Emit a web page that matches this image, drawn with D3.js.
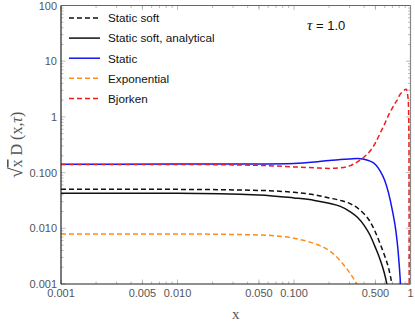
<!DOCTYPE html>
<html>
<head>
<meta charset="utf-8">
<script src="https://cdn.jsdelivr.net/npm/d3@7"></script>
<style>
  body { margin: 0; background: #fff; }
  svg { display: block; }
</style>
</head>
<body>
<script>
// values
let xs = [0.001, 0.01, 0.05, 0.1, 0.15, 0.2, 0.25, 0.3, 0.35, 0.4, 0.45, 0.5, 0.55, 0.6, 0.65, 0.7, 0.75, 0.78, 0.8, 0.85, 0.9, 0.92, 0.94, 0.96, 0.97, 0.975];

let staticSoft  = [0.0504, 0.0500, 0.0479, 0.0442, 0.0398, 0.0351, 0.0317, 0.0280, 0.0232, 0.0181, 0.0132, 0.0085, 0.0052, 0.0032, 0.0019, 0.0009, null, null, null, null, null, null, null, null, null, null];
let staticSoftA = [0.0427, 0.0424, 0.0398, 0.0351, 0.0317, 0.0282, 0.0247, 0.0202, 0.0158, 0.0113, 0.0075, 0.0045, 0.0027, 0.0015, 0.0007, null, null, null, null, null, null, null, null, null, null, null];
let staticV     = [0.1416, 0.1420, 0.143, 0.146, 0.155, 0.1656, 0.171, 0.176, 0.180, 0.174, 0.161, 0.140, 0.106, 0.073, 0.042, 0.0205, 0.0088, 0.0042, 0.0022, 0.0003, null, null, null, null, null, null];
let expo        = [0.0079, 0.0079, 0.0076, 0.0066, 0.0053, 0.0040, 0.0026, 0.0016, 0.00095, 0.0005, null, null, null, null, null, null, null, null, null, null, null, null, null, null, null, null];
let bjorken     = [0.140, 0.140, 0.135, 0.1266, 0.122, 0.119, 0.122, 0.132, 0.156, 0.191, 0.245, 0.341, 0.516, 0.749, 1.09, 1.45, 1.86, 2.1, 2.38, 2.81, 3.11, 3.14, 2.70, 1.64, 0.386, 0.0003];

let seriesNames = ["Static soft", "Static soft, analytical", "Static", "Exponential", "Bjorken"];
let seriesVals = [staticSoft, staticSoftA, staticV, expo, bjorken];
let seriesColors = ["#111", "#111", "#1414f0", "#ff8c1a", "#ee1c1c"];
let seriesDash = ["5,3", null, null, "5,3", "5,3"];

let yTicks = [100, 10, 1, 0.1, 0.01, 0.001];
let yTickLabels = ["100", "10", "1", "0.100", "0.010", "0.001"];
let xTicks = [0.001, 0.005, 0.01, 0.05, 0.1, 0.5, 1];
let xTickLabels = ["0.001", "0.005", "0.010", "0.050", "0.100", "0.500", "1"];

let width = 415, height = 327;
let margin = {left: 61, right: 4.5, top: 5.5, bottom: 43};

let svg = d3.select("body").append("svg")
  .attr("width", width)
  .attr("height", height);

let x = d3.scaleLog().domain([0.001, 1]).range([margin.left, width - margin.right]);
let y = d3.scaleLog().domain([0.001, 100]).range([height - margin.bottom, margin.top]);

svg.append("defs").append("clipPath").attr("id", "clip")
  .append("rect")
  .attr("x", margin.left).attr("y", margin.top)
  .attr("width", width - margin.left - margin.right)
  .attr("height", height - margin.top - margin.bottom);

// minor ticks
let minorX = [], minorY = [];
for (let d = 0.001; d < 1; d *= 10)
  for (let k = 2; k <= 9; k++) minorX.push(d * k);
for (let d = 0.001; d < 100; d *= 10)
  for (let k = 2; k <= 9; k++) minorY.push(d * k);

let tickG = svg.append("g").attr("stroke", "#aaa").attr("stroke-width", 0.8);
minorX.forEach(v => {
  tickG.append("line").attr("x1", x(v)).attr("x2", x(v)).attr("y1", y.range()[0]).attr("y2", y.range()[0] - 2.5);
  tickG.append("line").attr("x1", x(v)).attr("x2", x(v)).attr("y1", y.range()[1]).attr("y2", y.range()[1] + 2.5);
});
xTicks.forEach(v => {
  tickG.append("line").attr("x1", x(v)).attr("x2", x(v)).attr("y1", y.range()[0]).attr("y2", y.range()[0] - 4.5);
  tickG.append("line").attr("x1", x(v)).attr("x2", x(v)).attr("y1", y.range()[1]).attr("y2", y.range()[1] + 4.5);
});
minorY.forEach(v => {
  tickG.append("line").attr("y1", y(v)).attr("y2", y(v)).attr("x1", x.range()[0]).attr("x2", x.range()[0] + 2.5);
  tickG.append("line").attr("y1", y(v)).attr("y2", y(v)).attr("x1", x.range()[1]).attr("x2", x.range()[1] - 2.5);
});
yTicks.forEach(v => {
  tickG.append("line").attr("y1", y(v)).attr("y2", y(v)).attr("x1", x.range()[0]).attr("x2", x.range()[0] + 4.5);
  tickG.append("line").attr("y1", y(v)).attr("y2", y(v)).attr("x1", x.range()[1]).attr("x2", x.range()[1] - 4.5);
});

// curves
let line = d3.line()
  .defined(d => d[1] != null)
  .x(d => x(d[0]))
  .y(d => y(d[1]))
  .curve(d3.curveMonotoneX);

let curves = svg.append("g").attr("clip-path", "url(#clip)");
seriesVals.forEach((vals, i) => {
  curves.append("path")
    .datum(xs.map((v, j) => [v, vals[j]]))
    .attr("d", line)
    .attr("fill", "none")
    .attr("stroke", seriesColors[i])
    .attr("stroke-width", 1.5)
    .attr("stroke-dasharray", seriesDash[i]);
});

// frame
let x0 = x.range()[0], x1 = x.range()[1], y0 = y.range()[0], y1 = y.range()[1];
svg.append("line").attr("x1", x0).attr("x2", x1).attr("y1", y1).attr("y2", y1).attr("stroke", "#666").attr("stroke-width", 1.2);
svg.append("line").attr("x1", x1).attr("x2", x1).attr("y1", y0).attr("y2", y1).attr("stroke", "#888").attr("stroke-width", 1.2);
svg.append("line").attr("x1", x0).attr("x2", x1).attr("y1", y0).attr("y2", y0).attr("stroke", "#222").attr("stroke-width", 1.2);
svg.append("line").attr("x1", x0).attr("x2", x0).attr("y1", y0).attr("y2", y1).attr("stroke", "#222").attr("stroke-width", 1.2);

// tick labels
let labelFont = "'Liberation Sans', Arial, sans-serif";
xTicks.forEach((v, i) => {
  svg.append("text")
    .attr("x", x(v)).attr("y", y0 + 13)
    .attr("text-anchor", "middle")
    .attr("font-family", labelFont).attr("font-size", 11)
    .attr("fill", "#555")
    .text(xTickLabels[i]);
});
yTicks.forEach((v, i) => {
  svg.append("text")
    .attr("x", x0 - 4).attr("y", y(v) + 4)
    .attr("text-anchor", "end")
    .attr("font-family", labelFont).attr("font-size", 11)
    .attr("fill", "#555")
    .text(yTickLabels[i]);
});

// axis titles
svg.append("text")
  .attr("x", (x0 + x1) / 2).attr("y", 319)
  .attr("text-anchor", "middle")
  .attr("font-family", "'Liberation Serif', 'DejaVu Serif', serif").attr("font-size", 15)
  .attr("fill", "#555")
  .text("x");

let yt = svg.append("text")
  .attr("transform", `translate(22,${(y0 + y1) / 2}) rotate(-90)`)
  .attr("text-anchor", "middle")
  .attr("font-family", "'Liberation Serif', 'DejaVu Serif', serif").attr("font-size", 16)
  .attr("fill", "#555");
yt.append("tspan").attr("font-size", 19).text("√");
yt.append("tspan").attr("text-decoration", "overline").text("x");
yt.append("tspan").text(" D (x,");
yt.append("tspan").attr("font-style", "italic").text("τ");
yt.append("tspan").text(")");

// legend
let legend = svg.append("g");
seriesNames.forEach((name, i) => {
  let ly = 18 + i * 20.1;
  legend.append("line")
    .attr("x1", 69).attr("x2", 100).attr("y1", ly).attr("y2", ly)
    .attr("stroke", seriesColors[i])
    .attr("stroke-width", 1.5)
    .attr("stroke-dasharray", seriesDash[i]);
  legend.append("text")
    .attr("x", 108).attr("y", ly + 4.3)
    .attr("font-family", labelFont).attr("font-size", 11.7)
    .attr("fill", "#111")
    .text(name);
});

svg.append("text")
  .attr("x", 307).attr("y", 30)
  .attr("font-family", labelFont).attr("font-size", 13)
  .attr("fill", "#111")
  .html("<tspan font-style='italic' font-family='Liberation Serif, serif' font-size='15'>τ</tspan> = 1.0");
</script>
</body>
</html>
